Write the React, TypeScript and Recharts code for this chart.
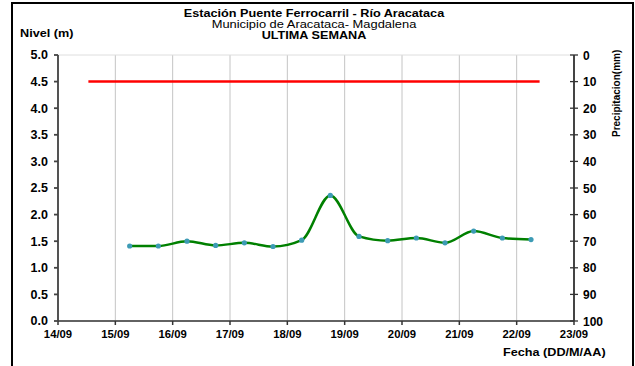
import { CartesianGrid, Line, LineChart, XAxis, YAxis } from "recharts";

// fechas en dias de septiembre (x.25 = 6:00, x.75 = 18:00)
const levelDays = [
  15.25, 15.75, 16.25, 16.75, 17.25, 17.75, 18.25, 18.75, 19.25, 19.75, 20.25,
  20.75, 21.25, 21.75, 22.25,
];
const levelValues = [
  1.41, 1.41, 1.5, 1.42, 1.47, 1.4, 1.52, 2.36, 1.59, 1.51, 1.56, 1.47, 1.69,
  1.56, 1.53,
];
const alertDays = [14.53, 22.4];
const alertValues = [4.5, 4.5];

const dayTicks = [14, 15, 16, 17, 18, 19, 20, 21, 22, 23];
const levelTicks = [0, 0.5, 1, 1.5, 2, 2.5, 3, 3.5, 4, 4.5, 5];
const rainTicks = [0, 10, 20, 30, 40, 50, 60, 70, 80, 90, 100];

const levelData = levelDays.map((d, i) => ({ x: d, nivel: levelValues[i] }));
const alertData = alertDays.map((d, i) => ({ x: d, alerta: alertValues[i] }));

const FONT = '"Liberation Sans", Arial, sans-serif';
const xTickStyle = { fontSize: 11.3, fontWeight: 700, fill: "#000", fontFamily: FONT };
const yTickStyle = { fontSize: 12.5, fontWeight: 700, fill: "#000", fontFamily: FONT };

// el texto del original es algo ancho, se estira en horizontal
const wide = (origin: string) => ({
  transform: "scaleX(1.15)",
  transformOrigin: origin,
});

const RightTick = ({ x, y, payload }: any) => (
  <g>
    <line x1={x - 13} x2={x - 5} y1={y} y2={y} stroke="#333" strokeWidth={1.3} />
    <text x={x} y={y} dy={4.5} textAnchor="start" {...yTickStyle} fontSize={12}>
      {payload.value}
    </text>
  </g>
);

export default function App() {
  return (
    <div
      style={{
        position: "absolute",
        left: 0,
        top: 0,
        width: 635,
        height: 366,
        overflow: "hidden",
        background: "#fff",
        fontFamily: FONT,
      }}
    >
      <div
        style={{
          position: "absolute",
          left: 11,
          top: 2,
          width: 619,
          height: 400,
          border: "2px solid #000",
        }}
      />
      <div
        style={{
          position: "absolute",
          left: 0,
          width: 628,
          top: 7.5,
          textAlign: "center",
          fontSize: 11,
          lineHeight: "11px",
        }}
      >
        <div style={{ fontWeight: 700, ...wide("center") }}>
          Estación Puente Ferrocarril - Río Aracataca
        </div>
        <div style={{ ...wide("center"), transform: "scaleX(1.17)" }}>
          Municipio de Aracataca- Magdalena
        </div>
        <div style={{ fontWeight: 700, ...wide("center") }}>ULTIMA SEMANA</div>
      </div>
      <div
        style={{
          position: "absolute",
          left: 20,
          top: 27,
          fontSize: 11,
          fontWeight: 700,
          whiteSpace: "nowrap",
          ...wide("0 0"),
        }}
      >
        Nivel (m)
      </div>
      <div
        style={{
          position: "absolute",
          left: 503,
          top: 346,
          fontSize: 11,
          fontWeight: 700,
          whiteSpace: "nowrap",
          ...wide("0 0"),
        }}
      >
        Fecha (DD/M/AA)
      </div>
      <div
        style={{
          position: "absolute",
          left: 611,
          top: 137,
          fontSize: 10,
          fontWeight: 700,
          transform: "rotate(-90deg)",
          transformOrigin: "0 0",
          whiteSpace: "nowrap",
        }}
      >
        Precipitacion(mm)
      </div>
      <LineChart
        width={635}
        height={366}
        margin={{ top: 55, right: 0, bottom: 25, left: 0 }}
        style={{ position: "absolute", left: 0, top: 0 }}
      >
        <CartesianGrid
          horizontal={false}
          stroke="#c4c4c4"
          verticalValues={dayTicks}
        />
        <CartesianGrid vertical={false} stroke="#dedede" />
        <XAxis
          dataKey="x"
          type="number"
          domain={[14, 23]}
          ticks={dayTicks}
          allowDataOverflow
          tickFormatter={(v) => `${v}/09`}
          tick={xTickStyle}
          tickSize={4}
          tickMargin={5}
          stroke="#333"
          strokeWidth={1.5}
          height={20}
        />
        <YAxis
          yAxisId="left"
          domain={[0, 5]}
          allowDataOverflow
          ticks={levelTicks}
          tickFormatter={(v) => v.toFixed(1)}
          tick={yTickStyle}
          tickSize={4}
          tickMargin={6}
          stroke="#444"
          strokeWidth={1.8}
          width={58}
        />
        <YAxis
          yAxisId="right"
          orientation="right"
          type="number"
          domain={[0, 100]}
          allowDataOverflow
          reversed
          ticks={rainTicks}
          tick={<RightTick />}
          tickLine={false}
          tickSize={4}
          tickMargin={5}
          stroke="#333"
          strokeWidth={1.8}
          width={61}
        />
        <Line
          yAxisId="left"
          data={alertData}
          dataKey="alerta"
          stroke="#ff0000"
          strokeWidth={2.5}
          dot={false}
          isAnimationActive={false}
        />
        <Line
          yAxisId="left"
          data={levelData}
          dataKey="nivel"
          type="monotone"
          stroke="#008000"
          strokeWidth={2.5}
          dot={{ r: 2.6, fill: "#3d9bb5", stroke: "none" }}
          isAnimationActive={false}
        />
      </LineChart>
    </div>
  );
}
